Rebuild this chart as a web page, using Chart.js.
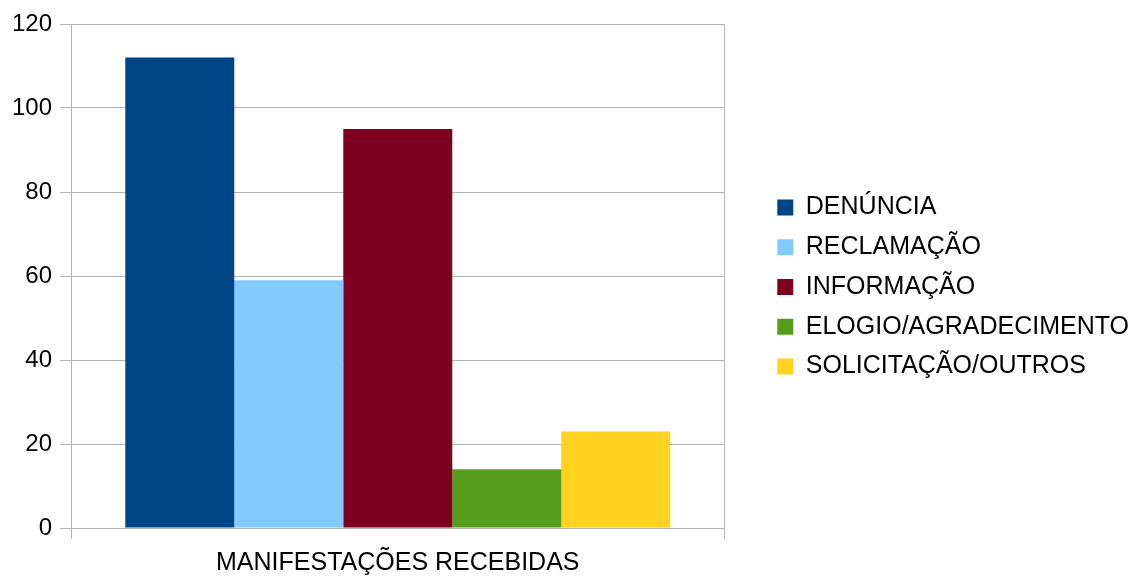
<!DOCTYPE html>
<html lang="pt">
<head>
    <meta charset="UTF-8">
    <title>Manifestações recebidas</title>
    <script src="https://cdn.jsdelivr.net/npm/chart.js"></script>
    <style>
        body { margin: 0; background: #fff; }
        .chart-container { width: 1139px; height: 576px; }
    </style>
</head>
<body>
    <div class="chart-container">
        <canvas id="manifestChart"></canvas>
    </div>

    <script>
        // dados do gráfico
        const categories = ['MANIFESTAÇÕES RECEBIDAS'];
        const seriesNames = ['DENÚNCIA', 'RECLAMAÇÃO', 'INFORMAÇÃO', 'ELOGIO/AGRADECIMENTO', 'SOLICITAÇÃO/OUTROS'];
        const seriesValues = [112, 59, 95, 14, 23];
        const seriesColors = ['#004586', '#83caff', '#7e0021', '#579d1c', '#ffd320'];
        const yMin = 0, yMax = 120, yStep = 20;

        const fontFamily = "'Liberation Sans', Arial, sans-serif";
        const gridColor = '#b3b3b3';

        new Chart(document.getElementById('manifestChart'), {
            type: 'bar',
            data: {
                labels: categories,
                datasets: seriesNames.map((name, i) => ({
                    label: name,
                    data: [seriesValues[i]],
                    backgroundColor: seriesColors[i],
                    borderWidth: 0,
                    categoryPercentage: 0.834,
                    barPercentage: 1
                }))
            },
            options: {
                responsive: true,
                maintainAspectRatio: false,
                animation: false,
                layout: { padding: { top: 24, left: 4, right: 0, bottom: -11 } },
                plugins: {
                    tooltip: { enabled: false },
                    legend: {
                        position: 'right',
                        fullSize: false,
                        maxWidth: 400,
                        // título vazio: só desloca a coluna da legenda
                        title: { display: true, text: '', font: { size: 10 }, padding: { top: 10, bottom: 0 } },
                        labels: {
                            boxWidth: 16,
                            boxHeight: 16,
                            padding: 14.8,
                            color: '#000',
                            font: { family: fontFamily, size: 25 }
                        }
                    }
                },
                scales: {
                    x: {
                        grid: { color: gridColor, tickLength: 11 },
                        border: { color: gridColor },
                        ticks: {
                            color: '#000',
                            padding: 10,
                            font: { family: fontFamily, size: 25, lineHeight: 1.12 }
                        }
                    },
                    y: {
                        min: yMin,
                        max: yMax,
                        grid: { color: gridColor, tickLength: 11 },
                        border: { color: gridColor },
                        ticks: {
                            stepSize: yStep,
                            color: '#000',
                            padding: 8,
                            font: { family: fontFamily, size: 24 }
                        }
                    },
                    // eixo vazio à direita: espaço entre o gráfico e a legenda
                    gap: {
                        position: 'right',
                        display: true,
                        grid: { display: false },
                        border: { display: false },
                        ticks: { display: false },
                        afterFit: (axis) => { axis.width = 38; }
                    }
                }
            }
        });
    </script>
</body>
</html>
